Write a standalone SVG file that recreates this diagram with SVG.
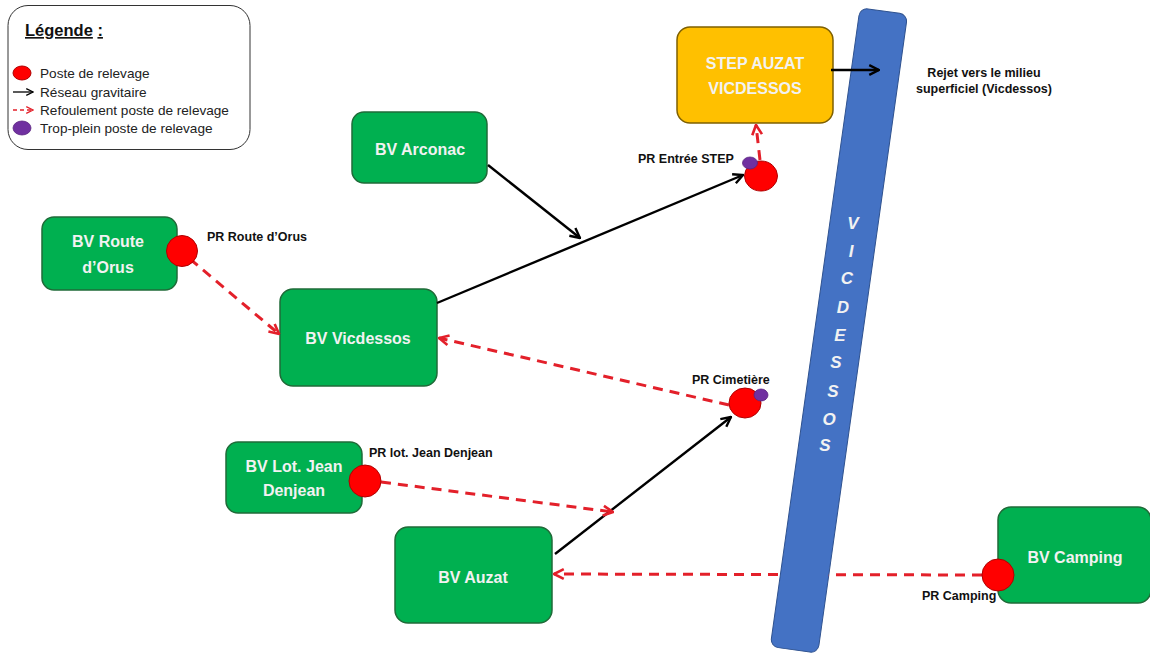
<svg xmlns="http://www.w3.org/2000/svg" width="1150" height="657" viewBox="0 0 1150 657">
  <style>
    .bv rect { fill: #00B050; stroke: #1F6B38; stroke-width: 1.5; }
    .bv text, .step text { font-family: "Liberation Sans", Arial, sans-serif; font-weight: bold; font-size: 16px; fill: #F2F2F2; text-anchor: middle; }
    .step rect { fill: #FFC000; stroke: #7F6000; stroke-width: 1.5; }
    .lbl { font-family: "Liberation Sans", Arial, sans-serif; font-weight: bold; font-size: 12.5px; fill: #111; }
    .pr { fill: #FF0000; stroke: #B00000; stroke-width: 1; }
    .tp { fill: #7030A0; stroke: #5A2580; stroke-width: 0.8; }
    .grav { fill: none; stroke: #000; stroke-width: 2.4; marker-end: url(#arrowBlack); }
    .ref { fill: none; stroke: #E3202A; stroke-width: 3; stroke-dasharray: 10 7; marker-end: url(#arrowRed); }
    .leg { font-family: "Liberation Sans", Arial, sans-serif; font-size: 13.6px; fill: #222; }
    .river-letter { font-family: "Liberation Sans", Arial, sans-serif; font-weight: bold; font-style: italic; font-size: 17px; fill: #F2F2F2; text-anchor: middle; }
  </style>
  <defs>
    <marker id="arrowBlack" viewBox="0 0 12 12" refX="11" refY="6" markerWidth="13" markerHeight="13" markerUnits="userSpaceOnUse" orient="auto">
      <path d="M2,1.5 L11,6 L2,10.5" fill="none" stroke="#000" stroke-width="2.2" stroke-dasharray="none"/>
    </marker>
    <marker id="arrowRed" viewBox="0 0 12 12" refX="11" refY="6" markerWidth="13" markerHeight="13" markerUnits="userSpaceOnUse" orient="auto">
      <path d="M2,1.5 L11,6 L2,10.5" fill="none" stroke="#E3202A" stroke-width="2.4" stroke-dasharray="none"/>
    </marker>
    <marker id="arrowBlackSmall" viewBox="0 0 12 12" refX="11" refY="6" markerWidth="9" markerHeight="9" markerUnits="userSpaceOnUse" orient="auto">
      <path d="M2,1.5 L11,6 L2,10.5" fill="none" stroke="#000" stroke-width="1.6"/>
    </marker>
    <marker id="arrowRedSmall" viewBox="0 0 12 12" refX="11" refY="6" markerWidth="9" markerHeight="9" markerUnits="userSpaceOnUse" orient="auto">
      <path d="M2,1.5 L11,6 L2,10.5" fill="none" stroke="#E3202A" stroke-width="1.6"/>
    </marker>
    <!-- hides the part of a connector that passes under the river -->
    <mask id="underRiver" maskUnits="userSpaceOnUse" x="0" y="0" width="1150" height="657">
      <rect x="0" y="0" width="1150" height="657" fill="#fff"/>
      <rect x="-24" y="-322" width="48" height="645" rx="8" fill="#000" transform="translate(839 330) rotate(8)"/>
    </mask>
  </defs>

  <rect x="0" y="0" width="1150" height="657" fill="#fff"/>

  <!-- Legend -->
  <g id="legend">
    <rect x="8" y="5.5" width="242" height="144" rx="20" fill="#fff" stroke="#333" stroke-width="1"/>
    <text x="25" y="36" font-family="Liberation Sans, Arial, sans-serif" font-weight="bold" font-size="16.5" fill="#111"><tspan text-decoration="underline">Légende</tspan> <tspan text-decoration="underline">:</tspan></text>
    <ellipse cx="22" cy="73" rx="9" ry="7" class="pr"/>
    <text x="40" y="78" class="leg">Poste de relevage</text>
    <line x1="13" y1="92" x2="33" y2="92" stroke="#000" stroke-width="1.3" marker-end="url(#arrowBlackSmall)"/>
    <text x="40" y="96.5" class="leg">Réseau gravitaire</text>
    <line x1="13" y1="110" x2="33" y2="110" stroke="#E3202A" stroke-width="1.3" stroke-dasharray="4 3" marker-end="url(#arrowRedSmall)"/>
    <text x="40" y="115" class="leg">Refoulement poste de relevage</text>
    <ellipse cx="22" cy="128" rx="9" ry="7" class="tp"/>
    <text x="40" y="133" class="leg">Trop-plein poste de relevage</text>
  </g>

  <!-- River -->
  <g id="river-vicdessos">
    <rect x="-24" y="-322" width="48" height="645" rx="8" fill="#4472C4" stroke="#2F528F" stroke-width="1" transform="translate(839 330) rotate(8)"/>
    <text x="853" y="229" class="river-letter">V</text>
    <text x="851" y="257" class="river-letter">I</text>
    <text x="847" y="284" class="river-letter">C</text>
    <text x="843" y="313" class="river-letter">D</text>
    <text x="840" y="341" class="river-letter">E</text>
    <text x="836" y="368" class="river-letter">S</text>
    <text x="833" y="397" class="river-letter">S</text>
    <text x="829" y="425" class="river-letter">O</text>
    <text x="825" y="451" class="river-letter">S</text>
  </g>

  <!-- Catchment nodes -->
  <g id="step" class="step">
    <rect x="677" y="27" width="156" height="96" rx="13"/>
    <text x="755" y="69">STEP AUZAT</text>
    <text x="755" y="94">VICDESSOS</text>
  </g>
  <g id="bv-arconac" class="bv">
    <rect x="352" y="112" width="135" height="71" rx="12"/>
    <text x="420" y="155">BV Arconac</text>
  </g>
  <g id="bv-route-orus" class="bv">
    <rect x="42" y="217" width="135" height="73" rx="12"/>
    <text x="108" y="247">BV Route</text>
    <text x="108" y="273">d’Orus</text>
  </g>
  <g id="bv-vicdessos" class="bv">
    <rect x="280" y="289" width="157" height="97" rx="13"/>
    <text x="358" y="344">BV Vicdessos</text>
  </g>
  <g id="bv-lot-jean-denjean" class="bv">
    <rect x="226" y="442" width="136" height="71" rx="12"/>
    <text x="294" y="472">BV Lot. Jean</text>
    <text x="294" y="496">Denjean</text>
  </g>
  <g id="bv-auzat" class="bv">
    <rect x="395" y="527" width="157" height="96" rx="13"/>
    <text x="473" y="583">BV Auzat</text>
  </g>
  <g id="bv-camping" class="bv">
    <rect x="998" y="507" width="153" height="96" rx="13"/>
    <text x="1075" y="563">BV Camping</text>
  </g>

  <!-- Connectors -->
  <g id="connectors">
    <line class="grav" x1="488" y1="165" x2="580" y2="238"/>
    <line class="grav" x1="437" y1="303" x2="743" y2="175"/>
    <line class="grav" x1="831" y1="70" x2="879" y2="70"/>
    <line class="grav" x1="555" y1="554" x2="731" y2="417"/>
    <line class="ref" x1="190" y1="259" x2="279" y2="334"/>
    <line class="ref" x1="729" y1="405" x2="439" y2="338"/>
    <line class="ref" x1="381" y1="482" x2="613" y2="512"/>
    <line class="ref" x1="982" y1="575" x2="554" y2="574" mask="url(#underRiver)"/>
    <line class="ref" x1="760" y1="160" x2="756" y2="125"/>
  </g>

  <!-- Pumping stations -->
  <g id="pr-entree-step">
    <ellipse cx="761" cy="176" rx="16.5" ry="15" class="pr"/>
    <ellipse cx="750" cy="163" rx="7.5" ry="6" class="tp"/>
    <text x="638" y="163" class="lbl">PR Entrée STEP</text>
  </g>
  <g id="pr-route-orus">
    <circle cx="182" cy="251" r="15.5" class="pr"/>
    <text x="207" y="241" class="lbl">PR Route d’Orus</text>
  </g>
  <g id="pr-cimetiere">
    <ellipse cx="745" cy="403" rx="16" ry="15" class="pr"/>
    <ellipse cx="761" cy="395" rx="7" ry="6" class="tp"/>
    <text x="692" y="384" class="lbl">PR Cimetière</text>
  </g>
  <g id="pr-lot-jean-denjean">
    <circle cx="365" cy="481" r="16" class="pr"/>
    <text x="369" y="457" class="lbl">PR lot. Jean Denjean</text>
  </g>
  <g id="pr-camping">
    <circle cx="998" cy="575" r="16" class="pr"/>
    <text x="922" y="600" class="lbl">PR Camping</text>
  </g>

  <!-- Outlet note -->
  <g id="rejet">
    <text x="984" y="77" class="lbl" text-anchor="middle">Rejet vers le milieu</text>
    <text x="984" y="93" class="lbl" text-anchor="middle">superficiel (Vicdessos)</text>
  </g>
</svg>
